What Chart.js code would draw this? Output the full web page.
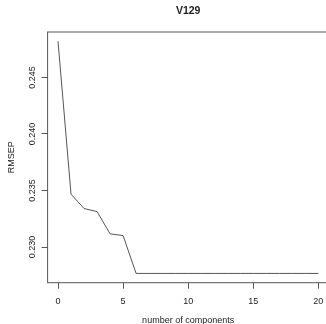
<!DOCTYPE html>
<html>
<head>
<meta charset="utf-8">
<script src="https://cdn.jsdelivr.net/npm/chart.js@4"></script>
<style>
  html, body { margin: 0; padding: 0; background: #fff; overflow: hidden; }
  #wrap { width: 340px; height: 324px; }
</style>
</head>
<body>
<div id="wrap"><canvas id="chart" width="340" height="324"></canvas></div>
<script>
const INK = "#222";
const LINE = "#555";
const FONT = "'Liberation Sans', Arial, sans-serif";

const TITLE = "V129";
const components = [0, 1, 2, 3, 4, 5, 6, 7, 8, 9, 10, 11, 12, 13, 14, 15, 16, 17, 18, 19, 20];
const rmsep = [0.2482, 0.23468, 0.23341, 0.23314, 0.23117, 0.23102, 0.22767, 0.22767, 0.22767,
  0.22767, 0.22767, 0.22767, 0.22767, 0.22767, 0.22767, 0.22767, 0.22767, 0.22767, 0.22767,
  0.22767, 0.22767];
const xTicks = [0, 5, 10, 15, 20];
const yTicks = [0.230, 0.235, 0.240, 0.245];

// R-style box, title centred on the plot, rotated y tick labels
const rBox = {
  id: "rBox",
  afterDraw(chart) {
    const { ctx, chartArea: a } = chart;
    const y = chart.scales.y;
    ctx.save();
    ctx.strokeStyle = LINE;
    ctx.lineWidth = 1;
    ctx.strokeRect(a.left, a.top, a.right - a.left, a.bottom - a.top);
    ctx.fillStyle = INK;
    ctx.textAlign = "center";
    ctx.textBaseline = "middle";
    ctx.font = "bold 10.5px " + FONT;
    ctx.fillText(TITLE, (a.left + a.right) / 2, 11);
    ctx.font = "9px " + FONT;
    yTicks.forEach((v) => {
      ctx.save();
      ctx.translate(33, y.getPixelForValue(v));
      ctx.rotate(-Math.PI / 2);
      ctx.fillText(v.toFixed(3), 0, 0);
      ctx.restore();
    });
    ctx.restore();
  },
};

new Chart(document.getElementById("chart"), {
  type: "line",
  data: {
    datasets: [{
      data: components.map((c, i) => ({ x: c, y: rmsep[i] })),
      borderColor: LINE,
      borderWidth: 1,
      pointRadius: 0,
      tension: 0,
      fill: false,
    }],
  },
  options: {
    responsive: false,
    animation: false,
    layout: { padding: { left: 0, right: 11.3, top: 32, bottom: 0 } },
    plugins: {
      legend: { display: false },
      tooltip: { enabled: false },
      title: { display: false },
    },
    scales: {
      x: {
        type: "linear",
        min: -0.8,
        max: 20.8,
        afterBuildTicks: (s) => { s.ticks = xTicks.map((v) => ({ value: v })); },
        afterFit: (s) => { s.height = 41.3; },
        grid: { drawOnChartArea: false, drawTicks: true, tickLength: 6, color: LINE },
        border: { display: false },
        ticks: { color: INK, font: { family: FONT, size: 9 }, padding: 7, maxRotation: 0 },
        title: {
          display: true,
          text: "number of components",
          color: INK,
          font: { family: FONT, size: 9, lineHeight: 1.2 },
          padding: { top: 0, bottom: -2.4 },
        },
      },
      y: {
        min: 0.22685,
        max: 0.24902,
        afterBuildTicks: (s) => { s.ticks = yTicks.map((v) => ({ value: v })); },
        afterFit: (s) => { s.width = 47.6; },
        grid: { drawOnChartArea: false, drawTicks: true, tickLength: 6, color: LINE },
        border: { display: false },
        ticks: { display: false },
        title: {
          display: true,
          text: "RMSEP",
          color: INK,
          font: { family: FONT, size: 9, lineHeight: 1.2 },
          padding: { top: 6.6, bottom: 0 },
        },
      },
    },
  },
  plugins: [rBox],
});
</script>
</body>
</html>
